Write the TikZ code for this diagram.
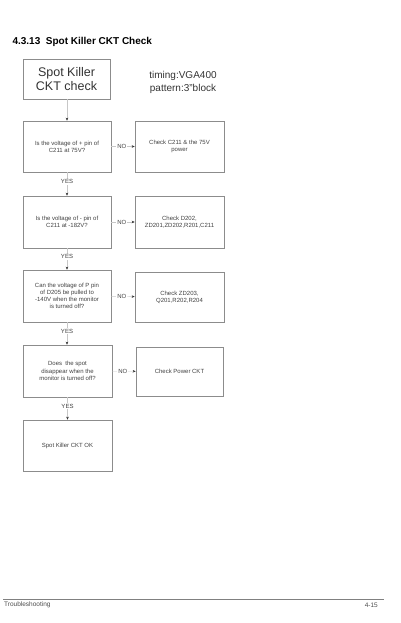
\documentclass[tikz,border=0pt]{standalone}
\usepackage{fontspec}
\setmainfont{Liberation Sans}
\usetikzlibrary{arrows.meta}
\begin{document}
\begin{tikzpicture}[x=1pt,y=-1pt,
  box/.style={draw=black!45,line width=0.6pt,inner sep=0pt},
  small/.style={font=\fontsize{6}{7.2}\selectfont,text=black!75,align=center},
  conn/.style={draw=black!22,line width=0.4pt,-{Stealth[length=3pt,width=2.5pt,black!80]}},
  lab/.style={font=\fontsize{6}{7}\selectfont,text=black!75,fill=white,inner sep=1pt}]
\useasboundingbox (0,0) rectangle (400,623);
% title
\node[anchor=west,font=\bfseries\fontsize{10}{12}\selectfont] (title) at (9,42) {4.3.13\ \ Spot Killer CKT Check};
% start box
\draw[box] (23,59) rectangle (110,99);
\node[align=center,font=\fontsize{12.5}{14}\selectfont,text=black!80] (start) at (66.5,79) {Spot Killer\\CKT check};
\coordinate (startb) at (67,99);
\node[align=center,font=\fontsize{10}{13}\selectfont,text=black!80] (timing) at (183,82) {timing:VGA400\\pattern:3"block};
% boxes
\node[box,small,minimum width=88pt,minimum height=51pt] (q1) at (67,146.5) {Is the voltage of + pin of\\C211 at 75V?};
\node[box,small,minimum width=89pt,minimum height=51pt] (a1) at (179.5,146.5) {Check C211 \& the 75V\\power};
\node[box,small,minimum width=88pt,minimum height=52pt] (q2) at (67,222) {Is the voltage of - pin of\\C211 at -182V?};
\node[box,small,minimum width=89pt,minimum height=52pt] (a2) at (179.5,222) {Check D202,\\ZD201,ZD202,R201,C211};
\node[box,small,minimum width=88pt,minimum height=52pt] (q3) at (67,296) {Can the voltage of P pin\\of D205 be pulled to\\-140V when the monitor\\is turned off?};
\node[box,small,minimum width=89pt,minimum height=50pt] (a3) at (179.5,297) {Check ZD203,\\Q201,R202,R204};
\node[box,small,minimum width=89pt,minimum height=52pt] (q4) at (67.5,371) {Does\ \ the spot\\disappear when the\\monitor is turned off?};
\node[box,small,minimum width=87pt,minimum height=49pt] (a4) at (179.5,371.5) {Check Power CKT};
\node[box,small,minimum width=89pt,minimum height=51pt] (ok) at (67.5,445.5) {Spot Killer CKT OK};
% connectors
\draw[conn] (startb) -- (q1.north);
\draw[conn] (q1) -- node[lab,pos=0.4]{YES} (q2);
\draw[conn] (q2) -- node[lab,pos=0.4]{YES} (q3);
\draw[conn] (q3.south) -- node[lab,pos=0.4]{YES} (q3.south |- q4.north);
\draw[conn] (q4.south) -- node[lab,pos=0.4]{YES} (q4.south |- ok.north);
\draw[conn] (q1) -- node[lab,pos=0.45]{NO} (a1);
\draw[conn] (q2) -- node[lab,pos=0.45]{NO} (a2);
\draw[conn] (q3) -- node[lab,pos=0.45]{NO} (a3);
\draw[conn] (q4) -- node[lab,pos=0.45]{NO} (a4);
% footer
\coordinate (fl) at (3,599);
\coordinate (fr) at (384,599);
\draw[black!50,line width=0.6pt] (fl) -- (fr);
\node[anchor=west,font=\fontsize{6.5}{8}\selectfont,text=black!70,inner sep=0pt] (foot) at (4,605) {Troubleshooting};
\node[anchor=east,font=\fontsize{6.5}{8}\selectfont,text=black!70,inner sep=0pt] (page) at (378,605) {4-15};
\end{tikzpicture}
\end{document}
